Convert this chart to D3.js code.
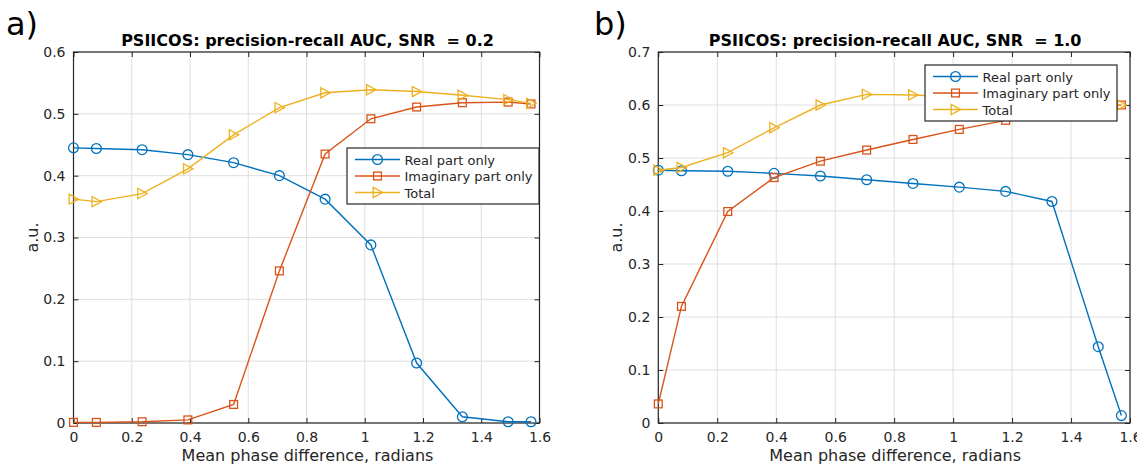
<!DOCTYPE html>
<html>
<head>
<meta charset="utf-8">
<script src="https://cdn.jsdelivr.net/npm/d3@7"></script>
<style>
  html, body { margin: 0; padding: 0; background: #ffffff; }
  svg { display: block; font-family: "DejaVu Sans", sans-serif; }
  text { white-space: pre; }
</style>
</head>
<body>
<svg id="fig" width="1137" height="467"></svg>
<script>
// Mean phase difference (radians) at which each simulation was run
const phase = [0, 0.0785, 0.2356, 0.3927, 0.5498, 0.7069, 0.8639, 1.0210, 1.1781, 1.3352, 1.4923, 1.5708];

// SNR = 0.2
const real02  = [0.445, 0.444, 0.442, 0.434, 0.421, 0.400, 0.362, 0.288, 0.097, 0.010, 0.002, 0.002];
const imag02  = [0.001, 0.001, 0.002, 0.005, 0.030, 0.246, 0.435, 0.492, 0.511, 0.518, 0.519, 0.516];
const total02 = [0.362, 0.358, 0.371, 0.411, 0.466, 0.510, 0.534, 0.539, 0.536, 0.530, 0.523, 0.517];

// SNR = 1.0
const real10  = [0.477, 0.476, 0.475, 0.471, 0.466, 0.459, 0.452, 0.445, 0.437, 0.418, 0.144, 0.014];
const imag10  = [0.036, 0.220, 0.399, 0.463, 0.494, 0.515, 0.535, 0.554, 0.571, 0.586, 0.596, 0.600];
const total10 = [0.477, 0.482, 0.510, 0.557, 0.600, 0.620, 0.619, 0.615, 0.611, 0.606, 0.602, 0.600];

const seriesNames = ["Real part only", "Imaginary part only", "Total"];
const seriesColors = ["#0072BD", "#D95319", "#EDB120"];
const seriesMarkers = ["circle", "square", "triangle"];

const xTicks = [0, 0.2, 0.4, 0.6, 0.8, 1, 1.2, 1.4, 1.6];
const yTicks02 = [0, 0.1, 0.2, 0.3, 0.4, 0.5, 0.6];
const yTicks10 = [0, 0.1, 0.2, 0.3, 0.4, 0.5, 0.6, 0.7];

const xLabel = "Mean phase difference, radians";
const yLabel = "a.u.";

const svg = d3.select("#fig");
const axisColor = "#262626";
const gridColor = "#dfdfdf";

function drawMarker(g, type, cx, cy, color) {
  if (type === "circle") {
    g.append("circle").attr("cx", cx).attr("cy", cy).attr("r", 4.9)
      .attr("fill", "none").attr("stroke", color).attr("stroke-width", 1.3);
  } else if (type === "square") {
    g.append("rect").attr("x", cx - 3.9).attr("y", cy - 3.9).attr("width", 7.8).attr("height", 7.8)
      .attr("fill", "none").attr("stroke", color).attr("stroke-width", 1.3);
  } else {
    const s = 5.1;
    g.append("path")
      .attr("d", `M${cx - s * 0.85},${cy - s}L${cx + s * 1.0},${cy}L${cx - s * 0.85},${cy + s}Z`)
      .attr("fill", "none").attr("stroke", color).attr("stroke-width", 1.3);
  }
}

function drawPanel(p) {
  const x = d3.scaleLinear().domain([0, 1.6]).range([p.left, p.right]);
  const y = d3.scaleLinear().domain([0, p.yMax]).range([p.bottom, p.top]);
  const g = svg.append("g");

  // grid
  g.append("g").selectAll("line").data(xTicks).join("line")
    .attr("x1", d => x(d)).attr("x2", d => x(d))
    .attr("y1", p.top).attr("y2", p.bottom)
    .attr("stroke", gridColor).attr("stroke-width", 1);
  g.append("g").selectAll("line").data(p.yTicks).join("line")
    .attr("x1", p.left).attr("x2", p.right)
    .attr("y1", d => y(d)).attr("y2", d => y(d))
    .attr("stroke", gridColor).attr("stroke-width", 1);

  // axes with inward ticks on all four sides
  const tl = 5;
  const fmt = d => d3.format("")(+d.toFixed(1));
  const xAxisB = d3.axisBottom(x).tickValues(xTicks).tickSize(-tl).tickPadding(9).tickFormat(fmt);
  const xAxisT = d3.axisTop(x).tickValues(xTicks).tickSize(-tl).tickFormat("");
  const yAxisL = d3.axisLeft(y).tickValues(p.yTicks).tickSize(-tl).tickPadding(8).tickFormat(fmt);
  const yAxisR = d3.axisRight(y).tickValues(p.yTicks).tickSize(-tl).tickFormat("");

  const styleAxis = sel => {
    sel.select(".domain").remove();
    sel.selectAll("line").attr("stroke", axisColor).attr("stroke-width", 1);
    sel.selectAll("text").attr("fill", axisColor).attr("font-size", 14)
      .attr("font-family", "DejaVu Sans");
  };
  g.append("g").attr("transform", `translate(0,${p.bottom})`).call(xAxisB).call(styleAxis);
  g.append("g").attr("transform", `translate(0,${p.top})`).call(xAxisT).call(styleAxis);
  g.append("g").attr("transform", `translate(${p.left},0)`).call(yAxisL).call(styleAxis);
  g.append("g").attr("transform", `translate(${p.right},0)`).call(yAxisR).call(styleAxis);

  g.append("rect").attr("x", p.left).attr("y", p.top)
    .attr("width", p.right - p.left).attr("height", p.bottom - p.top)
    .attr("fill", "none").attr("stroke", axisColor).attr("stroke-width", 1.2);

  // series
  const line = d3.line().x((d, i) => x(phase[i])).y(d => y(d));
  p.series.forEach((vals, k) => {
    g.append("path").datum(vals).attr("d", line)
      .attr("fill", "none").attr("stroke", seriesColors[k]).attr("stroke-width", 1.4);
    vals.forEach((v, i) => drawMarker(g, seriesMarkers[k], x(phase[i]), y(v), seriesColors[k]));
  });

  // title
  g.append("text").attr("x", (p.left + p.right) / 2 + 1).attr("y", 46)
    .attr("text-anchor", "middle").attr("font-weight", "bold").attr("font-size", 16)
    .attr("fill", "#000").text(p.title);

  // axis labels
  g.append("text").attr("x", (p.left + p.right) / 2 + 1).attr("y", 461)
    .attr("text-anchor", "middle").attr("font-size", 16).attr("fill", axisColor).text(xLabel);
  g.append("text").attr("transform", `translate(${p.left - 36},${(p.top + p.bottom) / 2}) rotate(-90)`)
    .attr("text-anchor", "middle").attr("font-size", 16).attr("fill", axisColor).text(yLabel);

  // panel letter
  g.append("text").attr("x", p.letterX).attr("y", 35)
    .attr("font-size", 32).attr("fill", "#000").text(p.letter);

  // legend
  const L = p.legend;
  const lg = g.append("g").attr("transform", `translate(${L.x},${L.y})`);
  lg.append("rect").attr("width", 192).attr("height", 56)
    .attr("fill", "#fff").attr("stroke", axisColor).attr("stroke-width", 1.2);
  seriesNames.forEach((name, k) => {
    const cy = 11.5 + k * 16.5;
    lg.append("line").attr("x1", 8).attr("x2", 53).attr("y1", cy).attr("y2", cy)
      .attr("stroke", seriesColors[k]).attr("stroke-width", 1.4);
    drawMarker(lg, seriesMarkers[k], 30.5, cy, seriesColors[k]);
    lg.append("text").attr("x", 57.5).attr("y", cy + 5).attr("font-size", 13)
      .attr("fill", axisColor).text(name);
  });
}

drawPanel({
  left: 73.5, right: 539.5, top: 52, bottom: 423, yMax: 0.6, yTicks: yTicks02,
  series: [real02, imag02, total02],
  title: "PSIICOS: precision-recall AUC, SNR  = 0.2",
  letter: "a)", letterX: 6,
  legend: { x: 347, y: 148 }
});

drawPanel({
  left: 658.3, right: 1130, top: 52, bottom: 423, yMax: 0.7, yTicks: yTicks10,
  series: [real10, imag10, total10],
  title: "PSIICOS: precision-recall AUC, SNR  = 1.0",
  letter: "b)", letterX: 594,
  legend: { x: 925, y: 65 }
});
</script>
</body>
</html>
